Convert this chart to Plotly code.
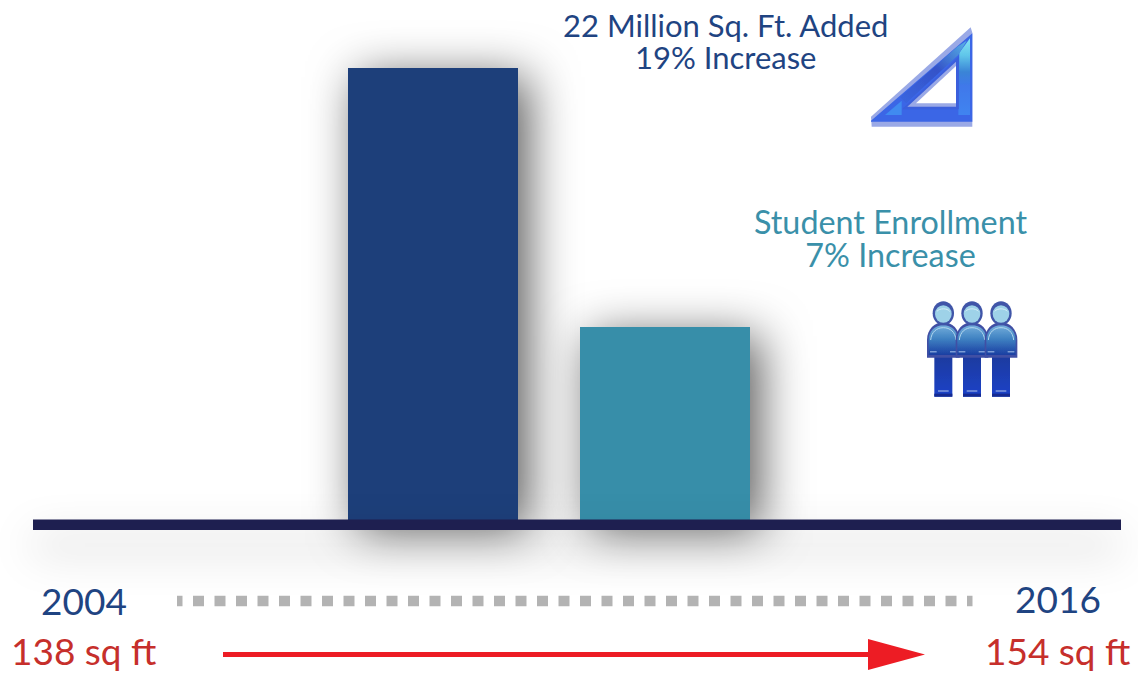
import base64
import plotly.graph_objects as go

WIDTH, HEIGHT = 1138, 673

# Data
categories = ["Added Sq. Ft.", "Student Enrollment"]
increase_pct = [19, 7]
bar_colors = ["#1d3f7a", "#378ea9"]
start_year, end_year = "2004", "2016"
start_area, end_area = "138 sq ft", "154 sq ft"

NAVY = "#1f4482"
TEAL = "#3a90a9"
RED = "#c62f2b"
FONT = "Lato"
BAR_FLOOR = -1.94


def fx(p):
    return p / WIDTH


def fy(p):
    return 1 - p / HEIGHT


def svg_uri(body, w, h):
    svg = (
        f'<svg xmlns="http://www.w3.org/2000/svg" width="{w}" height="{h}" '
        f'viewBox="0 0 {w * 3} {h * 3}">{body}</svg>'
    )
    return "data:image/svg+xml;base64," + base64.b64encode(svg.encode()).decode()


SET_SQUARE = """
<defs>
<linearGradient id="leg" x1="0" y1="0" x2="0" y2="1">
<stop offset="0" stop-color="#86e4f5"/><stop offset="0.22" stop-color="#60c6ea"/>
<stop offset="0.44" stop-color="#3a84d6"/><stop offset="0.62" stop-color="#3f78ea"/>
<stop offset="1" stop-color="#3f84f0"/>
</linearGradient>
<linearGradient id="band" x1="0" y1="1" x2="1" y2="0">
<stop offset="0" stop-color="#3a66e0"/><stop offset="0.55" stop-color="#3452c8"/>
<stop offset="1" stop-color="#58b4e6"/>
</linearGradient>
<filter id="soft"><feGaussianBlur stdDeviation="2"/></filter>
</defs>
<g filter="url(#soft)">
<polygon points="63,320 362,52 367,68 367,350 65,350" fill="#9aa9e6"/>
<polygon points="63,332 367,70 367,335 63,335" fill="#3a66e6"/>
<polygon points="328,128 360,85 360,315 325,315" fill="url(#leg)"/>
<polygon points="105,315 155,272 155,315" fill="#3f8bf0"/>
<polygon points="150,262 322,110 350,92 325,135 168,280" fill="url(#band)"/>
<polygon points="168,293 322,150 322,293" fill="#3a5fdc" stroke="#3a5fdc" stroke-width="9"/>
<polygon points="172,290 318,155 318,290" fill="#9aa9e6"/>
<polygon points="198,280 318,168 318,280" fill="#ffffff"/>
</g>
"""

person_parts = []
for cx in (130, 216, 303):
    person_parts.append(f"""
<rect x="{cx - 27}" y="190" width="54" height="130" fill="url(#legs)"/>
<rect x="{cx - 27}" y="311" width="54" height="9" fill="#122a90"/>
<rect x="{cx - 16}" y="301" width="32" height="4" fill="#8fa6e0"/>
<path d="M{cx - 49},203 V150 C{cx - 49},118 {cx - 26},97 {cx},97 C{cx + 26},97 {cx + 49},118 {cx + 49},150 V203 Z" fill="#3f4fa4"/>
<path d="M{cx - 44},195 V150 C{cx - 44},122 {cx - 24},106 {cx},106 C{cx + 24},106 {cx + 44},122 {cx + 44},150 V195 Z" fill="url(#torso)"/>
<path d="M{cx - 38},150 C{cx - 36},126 {cx - 20},113 {cx},113 C{cx + 20},113 {cx + 36},126 {cx + 38},150" fill="none" stroke="#b4d8ee" stroke-width="3"/>
<rect x="{cx - 40}" y="184" width="20" height="3" fill="#a9c4ea"/>
<rect x="{cx + 20}" y="184" width="20" height="3" fill="#a9c4ea"/>
<ellipse cx="{cx}" cy="70" rx="32" ry="36" fill="#3f55a8"/>
<ellipse cx="{cx}" cy="72" rx="25" ry="26" fill="#9ed2e8"/>
<path d="M{cx - 19},64 C{cx - 12},54 {cx + 12},54 {cx + 19},64" fill="none" stroke="#d6eef8" stroke-width="3"/>
""")
PEOPLE = f"""
<defs>
<linearGradient id="torso" x1="0" y1="0" x2="0" y2="1">
<stop offset="0" stop-color="#74aedb"/><stop offset="0.45" stop-color="#3f82c2"/>
<stop offset="1" stop-color="#1a3ea2"/>
</linearGradient>
<linearGradient id="legs" x1="0" y1="0" x2="0" y2="1">
<stop offset="0" stop-color="#1c3a9c"/><stop offset="1" stop-color="#1a42c8"/>
</linearGradient>
<filter id="soft"><feGaussianBlur stdDeviation="1.6"/></filter>
</defs>
<g filter="url(#soft)">{''.join(person_parts)}</g>
"""

# Dash pattern opens on a half square, then repeats full squares
dash_pattern = "5.5px,10.5px," + ",".join(["11px,10.5px"] * 40)

fig = go.Figure()
fig.add_bar(
    x=categories,
    y=[v - BAR_FLOOR for v in increase_pct],
    base=BAR_FLOOR,
    width=170 / 232,
    marker=dict(color=bar_colors, line=dict(width=0)),
    hoverinfo="skip",
)

shapes = [
    # Baseline
    dict(type="rect", xref="paper", yref="paper",
         x0=fx(33), x1=fx(1121), y0=fy(530), y1=fy(519.5),
         fillcolor="#1e1f50", line=dict(width=0)),
    # Time span between the two years
    dict(type="line", xref="paper", yref="paper",
         x0=fx(177), x1=fx(972.5), y0=fy(601), y1=fy(601),
         line=dict(color="#b3b3b3", width=10.5, dash=dash_pattern)),
    # Red arrow shaft and head
    dict(type="line", xref="paper", yref="paper",
         x0=fx(223), x1=fx(870), y0=fy(654.5), y1=fy(654.5),
         line=dict(color="#ed1c24", width=5)),
    dict(type="path", xref="paper", yref="paper",
         path=f"M{fx(868)},{fy(639)} L{fx(925)},{fy(654.5)} L{fx(868)},{fy(670)} Z",
         fillcolor="#ed1c24", line=dict(width=0)),
]


def label(text, cx, cy, color, size):
    return dict(
        text=text, xref="paper", yref="paper", x=fx(cx), y=fy(cy),
        xanchor="center", yanchor="middle", showarrow=False,
        font=dict(family=FONT, size=size, color=color),
    )


annotations = [
    label(f"22 Million Sq. Ft. Added<br>{increase_pct[0]}% Increase", 726, 45, NAVY, 31),
    label(f"Student Enrollment<br>{increase_pct[1]}% Increase", 890, 242, TEAL, 32.3),
    label(start_year, 84, 600, NAVY, 37),
    label(end_year, 1058, 598, NAVY, 37),
    label(start_area, 83.5, 650.5, RED, 37),
    label(end_area, 1057.5, 650.5, RED, 37),
]

images = [
    dict(source=svg_uri(SET_SQUARE, 150, 130), xref="paper", yref="paper",
         x=fx(850), y=fy(10), sizex=150 / WIDTH, sizey=130 / HEIGHT,
         xanchor="left", yanchor="top", sizing="stretch", layer="above"),
    dict(source=svg_uri(PEOPLE, 140, 120), xref="paper", yref="paper",
         x=fx(900), y=fy(290), sizex=140 / WIDTH, sizey=120 / HEIGHT,
         xanchor="left", yanchor="top", sizing="stretch", layer="above"),
]

fig.update_layout(
    width=WIDTH,
    height=HEIGHT,
    margin=dict(l=0, r=0, t=0, b=0),
    paper_bgcolor="#ffffff",
    plot_bgcolor="rgba(0,0,0,0)",
    showlegend=False,
    bargap=0,
    shapes=shapes,
    annotations=annotations,
    images=images,
    xaxis=dict(visible=False, type="category", range=[-433 / 232, (WIDTH - 433) / 232]),
    yaxis=dict(visible=False, range=[-9.03, 22.15]),
)

# Soft drop shadows under the bars and the baseline; tighter leading on two-line labels
post_js = """
document.querySelectorAll('.bars .point path').forEach(function (p) {
  p.style.filter = 'drop-shadow(10px 9px 24px rgba(0,0,0,0.66))';
});
var base = document.querySelector('.shapelayer path');
if (base) { base.style.filter = 'drop-shadow(0px 20px 22px rgba(0,0,0,0.24))'; }
document.querySelectorAll('.annotation-text tspan.line').forEach(function (t) {
  if (parseFloat(t.getAttribute('dy')) > 0) { t.setAttribute('dy', '1.03em'); }
});
"""

fig.write_html("out.html", post_script=post_js, config=dict(displayModeBar=False, staticPlot=True))
